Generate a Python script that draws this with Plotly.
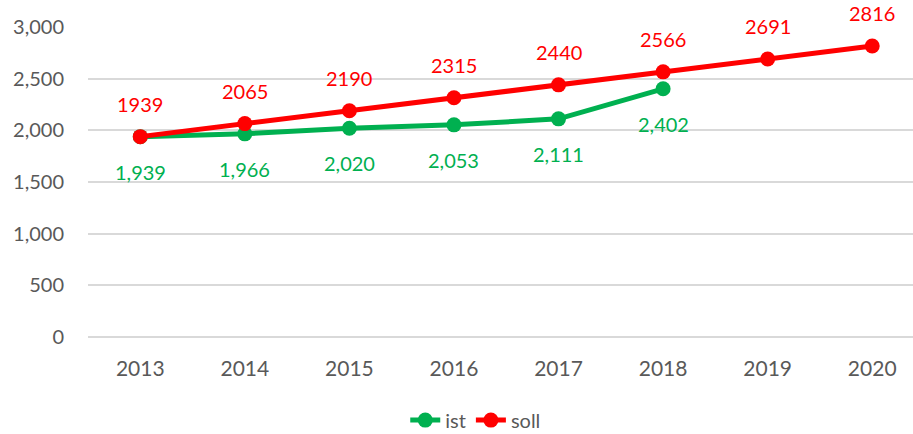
import plotly.graph_objects as go

years = [2013, 2014, 2015, 2016, 2017, 2018, 2019, 2020]
ist_years = [2013, 2014, 2015, 2016, 2017, 2018]
ist_values = [1939, 1966, 2020, 2053, 2111, 2402]
soll_values = [1939, 2065, 2190, 2315, 2440, 2566, 2691, 2816]
y_ticks = [0, 500, 1000, 1500, 2000, 2500, 3000]

GREEN = "#00B050"
RED = "#FF0000"
GREY = "#595959"
GRID = "#D9D9D9"
FONT = "Lato, Liberation Sans, sans-serif"

fig = go.Figure()
fig.add_trace(go.Scatter(x=ist_years, y=ist_values, name="ist", mode="lines+markers",
                         line=dict(color=GREEN, width=5), marker=dict(color=GREEN, size=15)))
fig.add_trace(go.Scatter(x=years, y=soll_values, name="soll", mode="lines+markers",
                         line=dict(color=RED, width=5), marker=dict(color=RED, size=15)))

annotations = []
for x, v in zip(ist_years, ist_values):
    annotations.append(dict(x=x, y=v, xref="x", yref="y", text=f"{v:,}", showarrow=False,
                            yshift=-35, font=dict(color=GREEN, size=20, family=FONT)))
for x, v in zip(years, soll_values):
    annotations.append(dict(x=x, y=v, xref="x", yref="y", text=f"{v}", showarrow=False,
                            yshift=33, font=dict(color=RED, size=20, family=FONT)))

fig.update_layout(
    width=913, height=434,
    margin=dict(l=88, r=0, t=27, b=97),
    paper_bgcolor="white", plot_bgcolor="white",
    font=dict(family=FONT, color=GREY, size=20),
    showlegend=True,
    legend=dict(orientation="h", x=0.47, xanchor="center", yref="container",
                y=0.032, yanchor="middle",
                font=dict(size=20, color=GREY), itemwidth=30, tracegroupgap=0),
    annotations=annotations,
    xaxis=dict(range=[2012.5, 2020.39], tickvals=years, showgrid=False, showline=False,
               zeroline=False, ticks="", automargin=False, ticklabelstandoff=17,
               tickfont=dict(size=21, color=GREY)),
    yaxis=dict(range=[0, 3000], tickvals=y_ticks, tickformat=",", showgrid=True,
               gridcolor=GRID, gridwidth=1.5, zeroline=True, zerolinecolor=GRID,
               zerolinewidth=1.5, showline=False,
               ticks="", automargin=False, ticklabelstandoff=23,
               tickfont=dict(size=20, color=GREY)),
)

fig.write_html("out.html", config={"displayModeBar": False},
               post_script="document.body.style.margin='0';")
